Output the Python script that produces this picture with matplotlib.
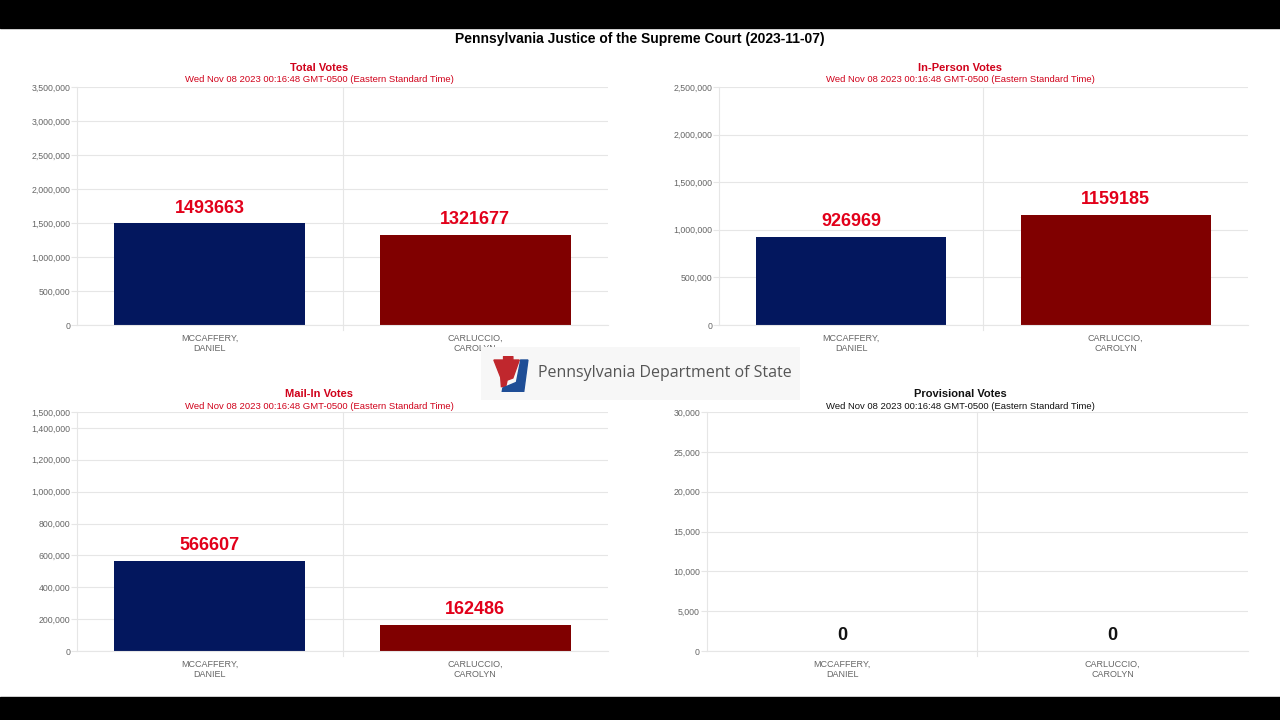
import matplotlib
matplotlib.use("Agg")
import matplotlib.pyplot as plt
from matplotlib.patches import Rectangle, Polygon
from matplotlib.ticker import FuncFormatter

plt.rcParams['font.family'] = ['Liberation Sans', 'DejaVu Sans']

# data
candidates = ["MCCAFFERY,\nDANIEL", "CARLUCCIO,\nCAROLYN"]
total_votes = [1493663, 1321677]
in_person_votes = [926969, 1159185]
mail_in_votes = [566607, 162486]
provisional_votes = [0, 0]
bar_colors = ["#03175e", "#800000"]

main_title = "Pennsylvania Justice of the Supreme Court (2023-11-07)"
stamp = "Wed Nov 08 2023 00:16:48 GMT-0500 (Eastern Standard Time)"

panels = [
    # title, values, ymax, ticks, axes rect, title x, title y, title colour, value colour
    ("Total Votes", total_votes, 3500000, list(range(0, 3500001, 500000)),
     [0.0602, 0.5486, 0.4148, 0.3306], 0.2492, 0.9056, "#d0021b", "#e2001a"),
    ("In-Person Votes", in_person_votes, 2500000, list(range(0, 2500001, 500000)),
     [0.5617, 0.5486, 0.4133, 0.3306], 0.75, 0.9056, "#d0021b", "#e2001a"),
    ("Mail-In Votes", mail_in_votes, 1500000, list(range(0, 1400001, 200000)) + [1500000],
     [0.0602, 0.0958, 0.4148, 0.332], 0.2492, 0.4528, "#d0021b", "#e2001a"),
    ("Provisional Votes", provisional_votes, 30000, list(range(0, 30001, 5000)),
     [0.5523, 0.0958, 0.4227, 0.332], 0.75, 0.4528, "#111111", "#111111"),
]

fig = plt.figure(figsize=(12.8, 7.2), dpi=100)
fig.patch.set_facecolor("white")

# black letterbox bands
fig.patches.append(Rectangle((0, 0.9611), 1, 0.04, transform=fig.transFigure, color="black", zorder=0))
fig.patches.append(Rectangle((0, 0), 1, 0.0319, transform=fig.transFigure, color="black", zorder=0))

fig.text(0.5, 0.9465, main_title, ha="center", va="center", fontsize=10, fontweight="bold", color="black")

grid_c = "#e6e6e6"
fmt = FuncFormatter(lambda v, p: f"{int(v):,}")

for title, vals, ymax, ticks, rect, tx, ty, tcol, vcol in panels:
    ax = fig.add_axes(rect)
    x = range(len(candidates))
    ax.bar(x, vals, width=0.72, color=bar_colors, zorder=2)
    ax.set_xlim(-0.5, 1.5)
    ax.set_ylim(0, ymax)
    ax.set_yticks(ticks)
    ax.yaxis.set_major_formatter(fmt)
    ax.set_xticks(list(x))
    ax.set_xticklabels(candidates, fontsize=6.5, color="#666666", linespacing=1.3)
    ax.tick_params(axis="y", labelsize=6.3, labelcolor="#666666", length=4, pad=1,
                   color=grid_c, width=0.8)
    ax.tick_params(axis="x", length=0, pad=6)
    ax.grid(axis="y", color=grid_c, lw=0.8, zorder=0)
    for s in ["top", "right"]:
        ax.spines[s].set_visible(False)
    ax.spines["left"].set_color(grid_c)
    ax.spines["bottom"].set_color(grid_c)
    ax.axvline(0.5, ymin=-0.02, color=grid_c, lw=0.8, clip_on=False, zorder=0)
    for xi, v in zip(x, vals):
        ax.annotate(str(v), (xi, v), xytext=(0, 11), textcoords="offset points",
                    ha="center", va="center", fontsize=13, fontweight="bold", color=vcol)
    fig.text(tx, ty, title, ha="center", va="center", fontsize=8, fontweight="bold", color=tcol)
    fig.text(tx, ty - 0.0167, stamp, ha="center", va="center", fontsize=6.8, color=tcol)

# Department of State logo badge
fig.patches.append(Rectangle((0.3758, 0.4444), 0.2492, 0.0736, transform=fig.transFigure,
                             facecolor="#f7f7f7", edgecolor="none", zorder=5))
lax = fig.add_axes([0.385, 0.455, 0.028, 0.05])
lax.set_zorder(7)
lax.set_xlim(0, 10)
lax.set_ylim(0, 10)
lax.axis("off")
# red keystone
lax.add_patch(Polygon([[0.3, 9.0], [3.0, 9.0], [3.0, 10], [5.6, 10], [5.6, 9.0], [7.4, 9.0],
                       [5.6, 4.0], [4.0, 3.4], [3.6, 1.6], [2.4, 1.6], [2.2, 4.2]],
                      closed=True, color="#c0272d"))
# blue J
lax.add_patch(Polygon([[7.8, 9.0], [9.8, 9.0], [8.6, 0.0], [2.6, 0.0], [2.8, 1.2], [6.6, 2.8]],
                      closed=True, color="#1f4e96"))
fig.text(0.4203, 0.4819, "Pennsylvania Department of State", ha="left", va="center",
         fontsize=11.5, color="#555555", family=["Open Sans", "DejaVu Sans"], zorder=8)

fig.savefig("out.png", dpi=100)
